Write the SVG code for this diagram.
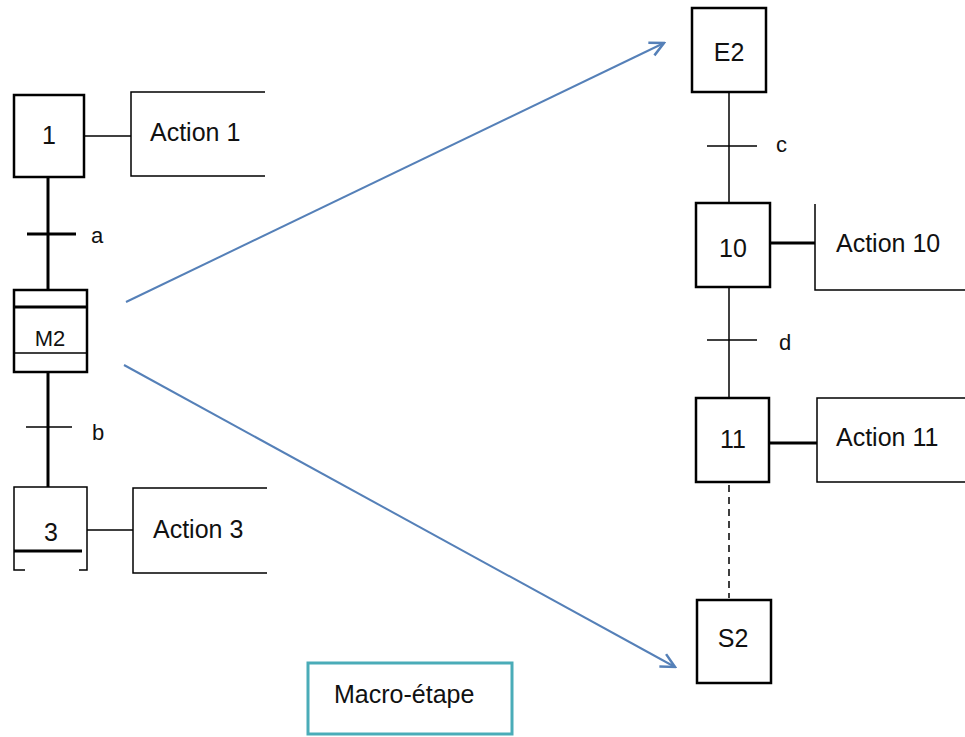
<svg xmlns="http://www.w3.org/2000/svg" width="965" height="737" viewBox="0 0 965 737">
<defs>
<style>
.step{fill:#fff;stroke:#000;stroke-width:2.5}
.act{fill:none;stroke:#000;stroke-width:1.5}
.ln{fill:none;stroke:#000;stroke-width:1.5}
.thk{fill:none;stroke:#000;stroke-width:3}
.t{font-family:"Liberation Sans",Arial,sans-serif;font-size:25px;fill:#111}
.tl{font-family:"Liberation Sans",Arial,sans-serif;font-size:22px;fill:#111}
.arr{fill:none;stroke:#5580b8;stroke-width:2}
</style>
<marker id="ah" markerUnits="userSpaceOnUse" markerWidth="20" markerHeight="20" viewBox="0 0 20 20" refX="18" refY="10" orient="auto">
<path d="M4,3 L18,10 L4,17" fill="none" stroke="#5580b8" stroke-width="2.5"/>
</marker>
</defs>
<rect width="965" height="737" fill="#fff"/>

<g id="connectors">
<line class="thk" x1="48" y1="178" x2="48" y2="290"/>
<line class="thk" x1="27" y1="234" x2="76" y2="234"/>
<line class="thk" x1="48" y1="372" x2="48" y2="487"/>
<line class="ln" x1="26" y1="427" x2="72" y2="427"/>
<line class="ln" x1="84" y1="136" x2="131" y2="136"/>
<line class="ln" x1="87" y1="530" x2="133" y2="530"/>
<line class="ln" x1="729" y1="92" x2="729" y2="202"/>
<line class="ln" x1="707" y1="146" x2="757" y2="146"/>
<line class="ln" x1="729" y1="287" x2="729" y2="398"/>
<line class="ln" x1="707" y1="340" x2="757" y2="340"/>
<line class="ln" x1="729" y1="485" x2="729" y2="598" stroke-dasharray="7,5"/>
<line class="thk" x1="770" y1="243" x2="815" y2="243"/>
<line class="thk" x1="770" y1="443" x2="817" y2="443"/>
<line class="arr" x1="126" y1="302" x2="664" y2="43" marker-end="url(#ah)"/>
<line class="arr" x1="124" y1="365" x2="675" y2="667" marker-end="url(#ah)"/>
</g>

<g id="step1">
<rect class="step" x="14" y="95" width="70" height="82"/>
<text class="t" x="49" y="144" text-anchor="middle">1</text>
</g>
<g id="action1">
<path class="act" d="M265,92 H131 V176 H265"/>
<text class="t" x="150" y="141">Action 1</text>
</g>
<text class="tl" x="91" y="243">a</text>

<g id="stepM2">
<rect class="step" x="14" y="290" width="73" height="82" stroke-width="2"/>
<line class="thk" x1="14" y1="307" x2="87" y2="307"/>
<line class="ln" x1="14" y1="353" x2="87" y2="353"/>
<text class="tl" x="50" y="346" text-anchor="middle" font-size="23">M2</text>
</g>
<text class="tl" x="92" y="440">b</text>

<g id="step3">
<path class="ln" d="M25,570 H14 V487 H87 V570 H79" stroke-width="2"/>
<line class="thk" x1="14" y1="551" x2="82" y2="551"/>
<text class="t" x="51" y="541" text-anchor="middle">3</text>
</g>
<g id="action3">
<path class="act" d="M267,488 H133 V573 H267"/>
<text class="t" x="153" y="538">Action 3</text>
</g>

<g id="stepE2">
<rect class="step" x="692" y="8" width="74" height="84" stroke-width="3"/>
<text class="t" x="729" y="61" text-anchor="middle">E2</text>
</g>
<text class="tl" x="776" y="152">c</text>

<g id="step10">
<rect class="step" x="696" y="203" width="74" height="84" stroke-width="3"/>
<text class="t" x="733" y="257" text-anchor="middle">10</text>
</g>
<g id="action10">
<path class="act" d="M815,204 V290 H965"/>
<text class="t" x="836" y="252">Action 10</text>
</g>
<text class="tl" x="779" y="350">d</text>

<g id="step11">
<rect class="step" x="696" y="398" width="73" height="84"/>
<text class="t" x="733" y="448" text-anchor="middle">11</text>
</g>
<g id="action11">
<path class="act" d="M965,398 H817 V482 H965"/>
<text class="t" x="836" y="446">Action 11</text>
</g>

<g id="stepS2">
<rect class="step" x="697" y="600" width="74" height="83"/>
<text class="t" x="733" y="647" text-anchor="middle">S2</text>
</g>

<g id="macro">
<rect x="308" y="663" width="204" height="71" fill="#fff" stroke="#4aacb8" stroke-width="3"/>
<text class="t" x="334" y="703" font-size="24">Macro-étape</text>
</g>
</svg>
